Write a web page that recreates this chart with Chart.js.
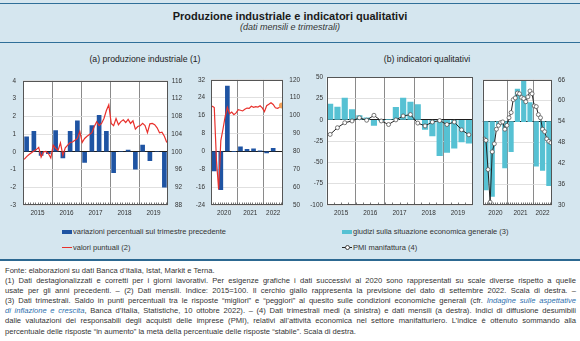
<!DOCTYPE html>
<html lang="it">
<head>
<meta charset="utf-8">
<title>Produzione industriale e indicatori qualitativi</title>
<script src="https://cdn.jsdelivr.net/npm/chart.js@4.4.1/dist/chart.umd.min.js"></script>
<style>
html,body{margin:0;padding:0}
body{position:relative;width:580px;height:341px;overflow:hidden;background:#fff;font-family:"Liberation Sans",Arial,Helvetica,sans-serif;color:#222}
.abs{position:absolute}
#box{left:0;top:0;width:580px;height:260px;background:#d5e6ef}
.rule{left:0;width:580px;background:#2f6f99}
#title{left:0;width:580px;top:9px;text-align:center;font-weight:bold;font-size:11px;line-height:15px;color:#1a1a1a}
#subtitle{left:0;width:580px;top:22px;text-align:center;font-style:italic;font-size:9px;line-height:11px;color:#333}
.ptitle{top:54px;font-size:8.7px;line-height:11px;color:#222;text-align:center;width:200px}
canvas{position:absolute}
.leg{font-size:7.5px;line-height:9px;color:#333;white-space:nowrap}
.sw{position:absolute}
#notes{left:5px;top:266px;width:571px;font-size:7.6px;line-height:10.1px;color:#333}
#notes div{white-space:nowrap;display:block}
#notes span.ln{display:inline-block;white-space:nowrap}
#notes i{color:#2e6fae}
</style>
</head>
<body>
<div id="box" class="abs"></div>
<div class="abs rule" style="top:3px;height:1px"></div>
<div id="title" class="abs">Produzione industriale e indicatori qualitativi</div>
<div id="subtitle" class="abs">(dati mensili e trimestrali)</div>
<div class="abs rule" style="top:42px;height:1px"></div>
<div class="abs ptitle" style="left:45px">(a) produzione industriale (1)</div>
<div class="abs ptitle" style="left:327px">(b) indicatori qualitativi</div>

<canvas id="c1" width="190" height="150" style="left:0;top:70px;width:190px;height:150px"></canvas>
<canvas id="c2" width="112" height="150" style="left:190px;top:70px;width:112px;height:150px"></canvas>
<canvas id="c3" width="176" height="150" style="left:302px;top:70px;width:176px;height:150px"></canvas>
<canvas id="c4" width="102" height="150" style="left:478px;top:70px;width:102px;height:150px"></canvas>

<!-- legende -->
<div class="sw" style="left:62px;top:230px;width:10px;height:4px;background:#1f54a3"></div>
<div class="abs leg" style="left:73px;top:227px">variazioni percentuali sul trimestre precedente</div>
<div class="sw" style="left:62px;top:246.5px;width:10px;height:1.5px;background:#e8312c"></div>
<div class="abs leg" style="left:73px;top:243px">valori puntuali (2)</div>
<div class="sw" style="left:342px;top:230px;width:10px;height:4px;background:#56c1d3"></div>
<div class="abs leg" style="left:353px;top:227px">giudizi sulla situazione economica generale (3)</div>
<div class="sw" style="left:342px;top:246.5px;width:10px;height:1px;background:#222"></div>
<div class="sw" style="left:344.5px;top:244.5px;width:3px;height:3px;border:0.8px solid #444;border-radius:50%;background:#fff"></div>
<div class="abs leg" style="left:353px;top:243px">PMI manifattura (4)</div>

<div class="abs" style="left:0;top:259px;width:580px;height:2px;background:#2c6891"></div>

<div id="notes" class="abs">
<div><span class="ln">Fonte: elaborazioni su dati Banca d’Italia, Istat, Markit e Terna.</span></div>
<div><span class="ln j">(1) Dati destagionalizzati e corretti per i giorni lavorativi. Per esigenze grafiche i dati successivi al 2020 sono rappresentati su scale diverse rispetto a quelle</span></div>
<div><span class="ln j">usate per gli anni precedenti. – (2) Dati mensili. Indice: 2015=100. Il cerchio giallo rappresenta la previsione del dato di settembre 2022. Scala di destra. –</span></div>
<div><span class="ln j">(3) Dati trimestrali. Saldo in punti percentuali tra le risposte “migliori” e “peggiori” al quesito sulle condizioni economiche generali (cfr. <i>Indagine sulle aspettative</i></span></div>
<div><span class="ln j"><i>di inflazione e crescita</i>, Banca d’Italia, Statistiche, 10 ottobre 2022). – (4) Dati trimestrali medi (a sinistra) e dati mensili (a destra). Indici di diffusione desumibili</span></div>
<div><span class="ln j">dalle valutazioni dei responsabili degli acquisti delle imprese (PMI), relativi all’attività economica nel settore manifatturiero. L’indice è ottenuto sommando alla</span></div>
<div><span class="ln">percentuale delle risposte “in aumento” la metà della percentuale delle risposte “stabile”. Scala di destra.</span></div>
</div>

<script>
// ---- anni sugli assi ----
const yearsPre = ['2015', '2016', '2017', '2018', '2019'];
const yearsPost = ['2020', '2021', '2022'];

// ---- (a) produzione industriale ----
// variazioni percentuali sul trimestre precedente, 2015 T1 – 2019 T4
const prodQoQPre = [0.85, 1.15, -0.2, -0.1, 1.2, -0.35, 1.15, 1.75, -0.6, 1.48, 2.06, 1.15, -1.18, 0, 0.09, -0.98, 0.38, -0.5, 0, -2.0];
// variazioni percentuali sul trimestre precedente, 2020 T1 – 2022 T2
const prodQoQPost = [-8.8, -17.1, 29.2, 0, 2.0, 0.9, 1.15, 0.1, -0.7, 1.3];
// indice mensile (2015=100), gen 2015 – dic 2019
const prodIndexPre = [
  98.3, 98.9, 99.4, 99.8, 100.2, 100.5, 101.0, 98.8, 100.0, 100.1, 99.6, 98.6,
  101.5, 100.8, 100.3, 102.0, 99.2, 100.9, 101.5, 102.1, 102.2, 102.6, 103.0, 104.6,
  102.1, 103.0, 103.5, 103.9, 104.3, 105.7, 106.8, 105.9, 106.4, 107.5, 109.3, 110.6,
  106.4, 105.9, 107.5, 106.1, 106.8, 107.2, 106.6, 107.3, 106.4, 107.0, 105.1, 105.7,
  105.9, 106.4, 105.9, 104.3, 106.3, 106.4, 106.1, 105.4, 104.3, 104.4, 103.5, 102.1
];
// indice mensile (2015=100), gen 2020 – ago 2022
const prodIndexPost = [
  105.3, 104.5, 75.0, 58.7, 86.0, 92.5, 99.5, 104.6, 101.0, 102.0, 100.5, 101.5,
  103.3, 103.0, 102.6, 103.5, 104.2, 104.0, 105.2, 104.6, 105.0, 104.8, 105.5, 104.3,
  102.2, 105.5, 106.3, 107.2, 106.2, 104.4, 104.1, 104.7
];
// previsione per settembre 2022
const prodForecastSep22 = 105.6;

// ---- (b) indicatori qualitativi ----
// giudizi sulla situazione economica generale (saldo), trimestrali
const giudiziPre = [18.7, 15.2, 25.7, 12.1, 5.2, 2.5, -6.4, -1, 0.5, 14.8, 25.7, 21.0, 17.9, -11.1, -18.8, -42, -38.1, -33.1, -25.8, -27.3];
const giudiziPost = [-81.8, -89.6, -5.0, -55.5, -36.2, 38.9, 48.5, 22.6, -53.6, -58.6, -76.8];
// PMI manifattura: medie trimestrali 2015–2019, dati mensili gen 2020 – set 2022
const pmiPre = [49.9, 51.8, 53.2, 53.7, 54.6, 53.9, 55.3, 53.7, 52.7, 54.0, 55.1, 55.5, 53.1, 52.3, 53.4, 53.8, 52.7, 53.4, 51.2, 49.8];
const pmiPost = [
  49.0, 48.6, 40.2, 30.8, 45.3, 47.6, 51.8, 52.9, 53.7, 53.9, 51.8, 52.9,
  55.1, 56.6, 60.3, 60.8, 62.2, 62.0, 60.9, 60.6, 59.7, 61.1, 62.8, 62.0,
  58.5, 58.3, 56.0, 55.1, 51.8, 51.1, 49.0, 48.3, 47.9
];

// ---- etichette degli assi verticali ----
const ticksQoQPre = [-3, -2, -1, 0, 1, 2, 3, 4];
const ticksIndexPre = [88, 92, 96, 100, 104, 108, 112, 116];
const ticksQoQPost = [-24, -16, -8, 0, 8, 16, 24, 32];
const ticksIndexPost = [50, 60, 70, 80, 90, 100, 110, 120];
const ticksGiudizi = [-100, -75, -50, -25, 0, 25, 50];
const ticksPmi = [30, 36, 42, 48, 54, 60, 66];

// ---- helpers ----
const monthsPost = pmiPost.length;          // gen 2020 – set 2022
const monthsPre = yearsPre.length * 12;
const quarterPts = vals => vals.map((v, q) => ({ x: 3 * q + 1.5, y: v }));
const monthPts = vals => vals.map((v, i) => ({ x: i + 0.5, y: v }));

Chart.defaults.font.family = '"Liberation Sans", Arial, Helvetica, sans-serif';
Chart.defaults.font.size = 6.4;
Chart.defaults.color = '#333';
Chart.defaults.animation = false;
Chart.defaults.events = [];
Chart.defaults.plugins.legend.display = false;
Chart.defaults.plugins.tooltip.enabled = false;

// white plotting area, month/quarter tick marks and frame
const frame = {
  id: 'frame',
  beforeDraw(chart) {
    const { ctx, chartArea: a } = chart;
    ctx.save();
    ctx.fillStyle = '#fff';
    ctx.fillRect(a.left, a.top, a.width, a.height);
    ctx.restore();
  },
  afterDatasetsDraw(chart, args, opts) {
    const { ctx, chartArea: a } = chart;
    const x = chart.scales.x;
    ctx.save();
    ctx.strokeStyle = '#555';
    ctx.lineWidth = 0.8;
    ctx.beginPath();
    for (let v = opts.minorStep; v < x.max; v += opts.minorStep) {
      const px = Math.round(x.getPixelForValue(v)) + 0.5;
      ctx.moveTo(px, a.bottom);
      ctx.lineTo(px, a.bottom - 2.5);
    }
    ctx.stroke();
    ctx.strokeStyle = '#555';
    ctx.lineWidth = 1;
    ctx.strokeRect(Math.round(a.left) + 0.5, Math.round(a.top) + 0.5, Math.round(a.width) - 1, Math.round(a.height) - 1);
    ctx.restore();
  }
};

function timeAxis(years, nMonths) {
  const marks = new Map();
  years.forEach((yr, k) => {
    const s = 12 * k, e = Math.min(s + 12, nMonths);
    if (k > 0) marks.set(s, '');
    marks.set((s + e) / 2, yr);
  });
  return {
    type: 'linear', min: 0, max: nMonths, offset: false,
    afterBuildTicks: sc => { sc.ticks = [...marks.keys()].sort((a, b) => a - b).map(v => ({ value: v })); },
    afterFit: sc => { sc.height = 15; },
    ticks: { autoSkip: false, maxRotation: 0, minRotation: 0, padding: 4, callback: v => marks.has(v) ? marks.get(v) : '' },
    grid: {
      offset: false, drawTicks: false, lineWidth: 1,
      color: c => (c.tick && marks.get(c.tick.value) === '') ? '#8a8a8a' : 'rgba(0,0,0,0)'
    },
    border: { display: false }
  };
}

function valueAxis(tickVals, o) {
  return {
    type: 'linear', position: o.position, display: o.display !== false,
    min: tickVals[0], max: tickVals[tickVals.length - 1],
    afterBuildTicks: sc => { sc.ticks = tickVals.map(v => ({ value: v })); },
    afterFit: sc => { sc.width = o.width; },
    ticks: { padding: o.pad || 0, crossAlign: o.align || 'near', callback: v => String(v) },
    grid: {
      display: !!o.grid, drawTicks: false,
      color: c => c.tick.value === o.zero ? '#1e1e1e' : '#d8d8d8',
      lineWidth: c => c.tick.value === o.zero ? 1 : 0.8
    },
    border: { display: false }
  };
}

const baseOpts = (padding, scales, minorStep) => ({
  responsive: false, maintainAspectRatio: false, devicePixelRatio: 1,
  layout: { padding },
  scales,
  plugins: { frame: { minorStep } }
});

const red = '#e8312c', blue = '#1f54a3', cyan = '#56c1d3';

// (a) 2015–2019
new Chart(document.getElementById('c1'), {
  type: 'bar',
  data: { datasets: [
    { type: 'line', data: monthPts(prodIndexPre), yAxisID: 'y1', borderColor: red, borderWidth: 1.2, pointRadius: 0, tension: 0, order: 0 },
    { type: 'bar', data: quarterPts(prodQoQPre), yAxisID: 'y', backgroundColor: blue, barThickness: 4, order: 1 }
  ] },
  options: baseOpts({ top: 6, right: 8, left: 0, bottom: 0 }, {
    x: timeAxis(yearsPre, monthsPre),
    y: valueAxis(ticksQoQPre, { position: 'left', width: 23, pad: 7, grid: true, zero: 0 }),
    y1: valueAxis(ticksIndexPre, { position: 'right', width: 14, pad: 0, align: 'far' })
  }, 1),
  plugins: [frame]
});

// (a) 2020–2022
new Chart(document.getElementById('c2'), {
  type: 'bar',
  data: { datasets: [
    { type: 'line', data: [{ x: monthsPost - 0.5, y: prodForecastSep22 }], yAxisID: 'y1', showLine: false, pointRadius: 3, pointBackgroundColor: '#f4a25a', pointBorderWidth: 0, order: 0 },
    { type: 'line', data: monthPts(prodIndexPost), yAxisID: 'y1', borderColor: red, borderWidth: 1.2, pointRadius: 0, tension: 0, order: 1 },
    { type: 'bar', data: quarterPts(prodQoQPost), yAxisID: 'y', backgroundColor: blue, barThickness: 4, order: 2 }
  ] },
  options: baseOpts({ top: 6, right: 2, left: 0, bottom: 0 }, {
    x: timeAxis(yearsPost, monthsPost),
    y: valueAxis(ticksQoQPost, { position: 'left', width: 21, pad: 6, grid: true, zero: 0 }),
    y1: valueAxis(ticksIndexPost, { position: 'right', width: 17, pad: 0, align: 'far' })
  }, 1),
  plugins: [frame]
});

// (b) 2015–2019
new Chart(document.getElementById('c3'), {
  type: 'bar',
  data: { datasets: [
    { type: 'line', data: quarterPts(pmiPre), yAxisID: 'y1', borderColor: '#222', borderWidth: 1, pointRadius: 2, pointBackgroundColor: '#fff', pointBorderColor: '#555', pointBorderWidth: 0.8, tension: 0, order: 0 },
    { type: 'bar', data: quarterPts(giudiziPre), yAxisID: 'y', backgroundColor: cyan, barThickness: 5.5, order: 1 }
  ] },
  options: baseOpts({ top: 6, right: 5.5, left: 0, bottom: 0 }, {
    x: timeAxis(yearsPre, monthsPre),
    y: valueAxis(ticksGiudizi, { position: 'left', width: 24.5, pad: 3.5, grid: true, zero: 0 }),
    y1: valueAxis(ticksPmi, { position: 'right', display: false, width: 0 })
  }, 3),
  plugins: [frame]
});

// (b) 2020–2022
new Chart(document.getElementById('c4'), {
  type: 'bar',
  data: { datasets: [
    { type: 'line', data: monthPts(pmiPost), yAxisID: 'y1', borderColor: '#222', borderWidth: 1, pointRadius: 2, pointBackgroundColor: '#fff', pointBorderColor: '#555', pointBorderWidth: 0.8, tension: 0, order: 0 },
    { type: 'bar', data: quarterPts(giudiziPost), yAxisID: 'y', backgroundColor: cyan, barThickness: 4.5, order: 1 }
  ] },
  options: baseOpts({ top: 6, right: 0, left: 0, bottom: 0 }, {
    x: timeAxis(yearsPost, monthsPost),
    y: valueAxis(ticksGiudizi, { position: 'left', display: false, width: 0 }),
    y1: valueAxis(ticksPmi, { position: 'right', width: 28, pad: 6, grid: true, zero: 54 })
  }, 1),
  plugins: [frame]
});

// justified note lines: spread the spaces so each line fills the column
document.querySelectorAll('#notes span.j').forEach(el => {
  const target = 571;
  const w = el.getBoundingClientRect().width;
  const spaces = (el.textContent.match(/ /g) || []).length;
  if (spaces) el.style.wordSpacing = ((target - w) / spaces) + 'px';
});
</script>
</body>
</html>
